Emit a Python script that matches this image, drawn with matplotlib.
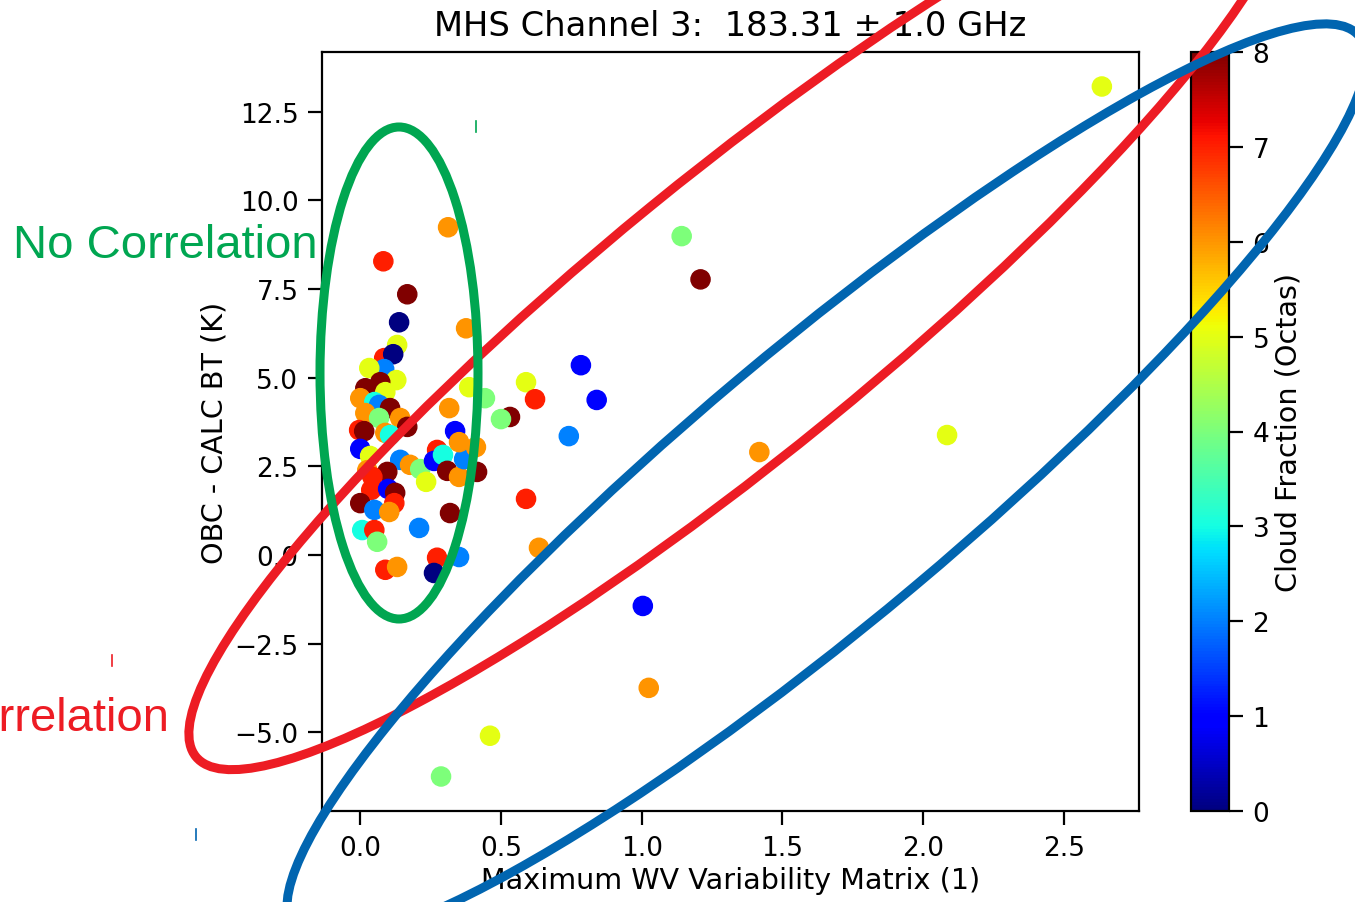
import matplotlib
matplotlib.use("Agg")
import matplotlib.pyplot as plt
from matplotlib.patches import Ellipse
from matplotlib.lines import Line2D

# max WV variability, OBC - CALC brightness temperature, cloud fraction (octas)
wv_var = [2.635, 0.312, 0.082, 0.167, 1.142, 1.209, 0.138, 0.376, 0.784, 0.840,
          0.589, 0.621, 0.741, 0.532, 0.500, 0.443, 0.387, 1.418, 2.085, 0.589,
          0.635, 1.004, 1.025, 0.461, 0.287,
          0.131, 0.085, 0.117, 0.085, 0.032, 0.128, 0.071, 0.018, 0.089, 0.000,
          0.050, 0.067, 0.106, 0.018, 0.067, 0.142, 0.167, 0.089, -0.004, 0.014,
          0.106, 0.000, 0.035, 0.142, 0.177, 0.213, 0.234, 0.273, 0.262, 0.294,
          0.309, 0.351, 0.369, 0.337, 0.351, 0.411, 0.415, 0.316, 0.096, 0.025,
          0.043, 0.039, 0.099, 0.124, 0.121, 0.000, 0.050, 0.103, 0.319, 0.209,
          0.007, 0.050, 0.060, 0.089, 0.131, 0.273, 0.262, 0.351]
bt_diff = [13.21, 9.24, 8.28, 7.35, 8.99, 7.77, 6.56, 6.39, 5.35, 4.37,
           4.87, 4.39, 3.35, 3.89, 3.83, 4.42, 4.73, 2.90, 3.38, 1.58,
           0.20, -1.44, -3.75, -5.10, -6.25,
           5.92, 5.55, 5.66, 5.24, 5.27, 4.93, 4.87, 4.70, 4.59, 4.42,
           4.31, 4.23, 4.14, 4.00, 3.86, 3.86, 3.61, 3.44, 3.52, 3.49,
           3.38, 2.99, 2.79, 2.68, 2.54, 2.42, 2.06, 2.96, 2.65, 2.82,
           2.37, 2.20, 2.70, 3.49, 3.18, 3.04, 2.34, 4.14, 2.34, 2.39,
           2.20, 1.83, 1.86, 1.75, 1.46, 1.46, 1.27, 1.21, 1.18, 0.76,
           0.70, 0.70, 0.37, -0.42, -0.34, -0.08, -0.51, -0.06]
cloud = [5, 6, 7, 8, 4, 8, 0, 6, 1, 1,
         5, 7, 2, 8, 4, 4, 5, 6, 5, 7,
         6, 1, 6, 5, 4,
         5, 7, 0, 2, 5, 5, 8, 8, 5, 6,
         3, 2, 8, 6, 4, 6, 8, 6, 7, 8,
         3, 1, 5, 2, 6, 4, 5, 7, 1, 3,
         8, 6, 2, 1, 6, 6, 8, 6, 8, 6,
         7, 7, 1, 8, 7, 8, 2, 6, 8, 2,
         3, 7, 4, 7, 6, 7, 0, 2]

W, H = 1355, 903
fig = plt.figure(figsize=(W / 100, H / 100), dpi=100)

ax = fig.add_axes([322 / W, 91 / H, 817 / W, 759 / H])
sc = ax.scatter(wv_var, bt_diff, c=cloud, cmap="jet", vmin=0, vmax=8, s=190)
ax.set_title("MHS Channel 3:  183.31 \u00b1 1.0 GHz", fontsize=24.3, pad=12)
ax.set_xlabel("Maximum WV Variability Matrix (1)", fontsize=20.6)
ax.set_ylabel("OBC - CALC BT (K)", fontsize=20.6)
ax.tick_params(labelsize=19, length=10, width=1.6, pad=7)
for sp in ax.spines.values():
    sp.set_linewidth(1.6)

cax = fig.add_axes([1191 / W, 91 / H, 38 / W, 759 / H])
cb = fig.colorbar(sc, cax=cax)
cb.set_label("Cloud Fraction (Octas)", fontsize=20.6)
cb.ax.tick_params(labelsize=19, length=10, width=1.6, pad=7)
cb.outline.set_linewidth(1.6)

# hand-drawn style annotations, placed in inches (1 in = 100 px here)
tr = fig.dpi_scale_trans
red = "#ED1C24"
blue = "#0165B0"
green = "#00A651"
fig.add_artist(Ellipse((7.384, 5.877), 14.0, 2.78, angle=39.2, fill=False,
                       ec=red, lw=6.5, transform=tr, zorder=10))
fig.add_artist(Ellipse((8.265, 4.194), 13.9, 2.72, angle=40.0, fill=False,
                       ec=blue, lw=6.5, transform=tr, zorder=11))
fig.add_artist(Ellipse((3.99, 5.29), 1.58, 4.92, fill=False,
                       ec=green, lw=6.5, transform=tr, zorder=12))

fig.text(13 / 100, (H - 258) / 100, "No Correlation", transform=tr,
         color=green, fontsize=34, family="Liberation Sans",
         ha="left", va="baseline", zorder=13)
fig.text(170 / 100, (H - 731) / 100, "Correlation", transform=tr,
         color=red, fontsize=34, family="Liberation Sans",
         ha="right", va="baseline", zorder=13)

# little cursor marks left next to the labels
for x, y0, y1, col in [(476, 122, 133, green), (112, 656, 667, red), (196, 830, 841, blue)]:
    fig.add_artist(Line2D([x / 100, x / 100], [(H - y0) / 100, (H - y1) / 100],
                          color=col, lw=1.2, transform=tr, zorder=13))

fig.savefig("out.png", dpi=100)
